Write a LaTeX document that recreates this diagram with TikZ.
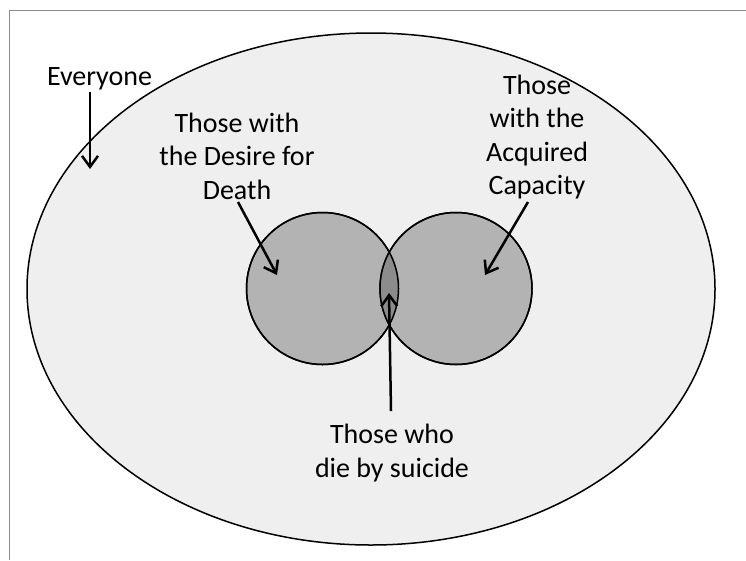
\documentclass[tikz,border=0pt]{standalone}
\usepackage{fontspec}
\setmainfont{Carlito}
\usetikzlibrary{shapes.geometric,arrows.meta}
\definecolor{popgray}{HTML}{EFEFEF}
\definecolor{setgray}{HTML}{B3B3B3}
\definecolor{bothgray}{HTML}{8C8C8C}
\definecolor{framegray}{HTML}{8A8A8A}
\tikzset{
  label/.style={align=center, inner sep=0pt, font=\fontsize{28}{33.5}\selectfont},
  setcircle/.style={circle, draw, line width=1.5pt, fill=setgray, minimum size=152pt, inner sep=0pt, outer sep=0pt},
  pointer/.style={line width=2.5pt, -{Straight Barb[length=11pt, width=16pt, line width=2.5pt]}}
}
\begin{document}
\begin{tikzpicture}[x=1pt, y=-1pt]
  \useasboundingbox (0,0) rectangle (746,560);
  % Frame (only top and left edges show)
  \draw[framegray, line width=1pt] (746,10) -- (9,10) -- (9,560);
  % Whole population
  \node[ellipse, draw, line width=1.5pt, fill=popgray, minimum width=688pt, minimum height=512pt, inner sep=0pt] (everyonebox) at (371,289) {};
  % The two sets
  \node[setcircle] (desire) at (322.5,288.5) {};
  \node[setcircle] (capacity) at (456,288.5) {};
  % Overlap
  \begin{scope}
    \clip (desire.center) circle (76pt);
    \fill[bothgray] (capacity.center) circle (76pt);
  \end{scope}
  \draw[line width=1.5pt] (desire.center) circle (76pt);
  \draw[line width=1.5pt] (capacity.center) circle (76pt);
  % Labels
  \node[label] (everyone) at (99.5,79) {Everyone};
  \node[label] (desiretext) at (237,156) {Those with\\the Desire for\\Death};
  \node[label] (capacitytext) at (537,137) {Those\\with the\\Acquired\\Capacity};
  \node[label] (suicidetext) at (392,453) {Those who\\die by suicide};
  % Arrow tips
  \coordinate (everyonetip) at (90,169);
  \coordinate (desiretip) at (277,275);
  \coordinate (capacitytip) at (485,275);
  \coordinate (suicidetip) at (389,293);
  % Pointers
  \draw[pointer] (everyone.south -| everyonetip) ++(0,2) -- (everyonetip);
  \draw[pointer] (238,202) -- (desiretip);
  \draw[pointer] (528,202) -- (capacitytip);
  \draw[pointer] (suicidetext.north -| 391,0) ++(0,-13) -- (suicidetip);
\end{tikzpicture}
\end{document}
